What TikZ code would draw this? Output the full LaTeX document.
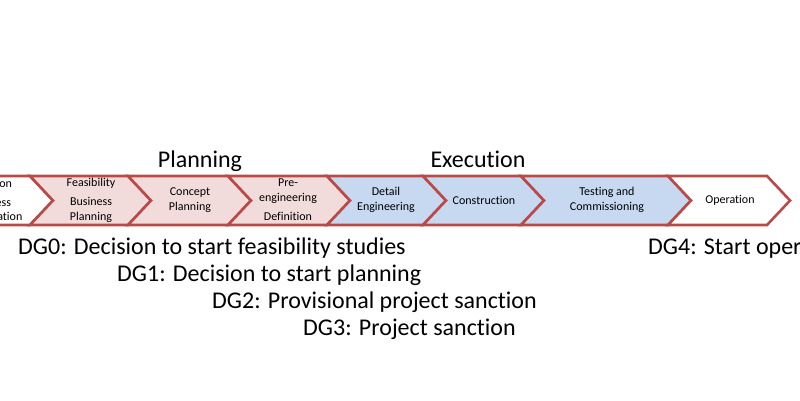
\documentclass[tikz,border=0pt]{standalone}
\usepackage{fontspec}
\setmainfont[Ligatures={NoCommon}]{Carlito}
\usepackage{xcolor}
\definecolor{chevred}{RGB}{186,74,71}
\definecolor{planpink}{RGB}{242,220,219}
\definecolor{execblue}{RGB}{198,217,240}

\begin{document}
\begin{tikzpicture}[x=1pt, y=-1pt,
    chev/.style={draw=chevred, line width=2.6pt, line join=miter},
    phase/.style={font=\fontsize{12}{14.4}\selectfont, align=center, inner sep=0pt},
    stage/.style={font=\fontsize{24}{28}\selectfont, anchor=base, inner sep=0pt},
    gate/.style={font=\fontsize{24}{28}\selectfont, anchor=base west, inner sep=0pt}]
    \useasboundingbox (0,0) rectangle (800,400);

    % chevrons: left corner / right corner / fill
    \foreach \l/\r/\c in {-70/30/white, 30/128/planpink, 128/228/planpink, 228/327/planpink,
                          327/423/execblue, 423/521/execblue, 521/668/execblue, 668/767/white}
        \draw[chev, fill=\c] (\l,176) -- (\r,176) -- ++(23,24.5) -- (\r,225) -- (\l,225) -- ++(23,-24.5) -- cycle;

    \node[phase] (init) at (-10, 200) {Initiation\\[5pt]Business\\Identification};
    \node[phase] (feas) at (91, 200) {Feasibility\\[5pt]Business\\Planning};
    \node[phase] (concept) at (190, 200) {Concept\\Planning};
    \node[phase] (preeng) at (288, 200) {Pre-\\engineering\\[5pt]Definition};
    \node[phase] (detail) at (386, 200) {Detail\\Engineering};
    \node[phase] (constr) at (484, 200) {Construction};
    \node[phase] (testing) at (607, 200) {Testing and\\Commissioning};
    \node[phase] (oper) at (730, 200) {Operation};

    \node[stage] (planning) at (200, 167) {Planning};
    \node[stage] (execution) at (478, 167) {Execution};

    \node[gate] (dg0) at (18, 254) {DG0: Decision to start feasibility studies};
    \node[gate] (dg1) at (117, 281) {DG1: Decision to start planning};
    \node[gate] (dg2) at (212, 308) {DG2: Provisional project sanction};
    \node[gate] (dg3) at (303, 335) {DG3: Project sanction};
    \node[gate] (dg4) at (648, 254) {DG4: Start operation};
\end{tikzpicture}
\end{document}
